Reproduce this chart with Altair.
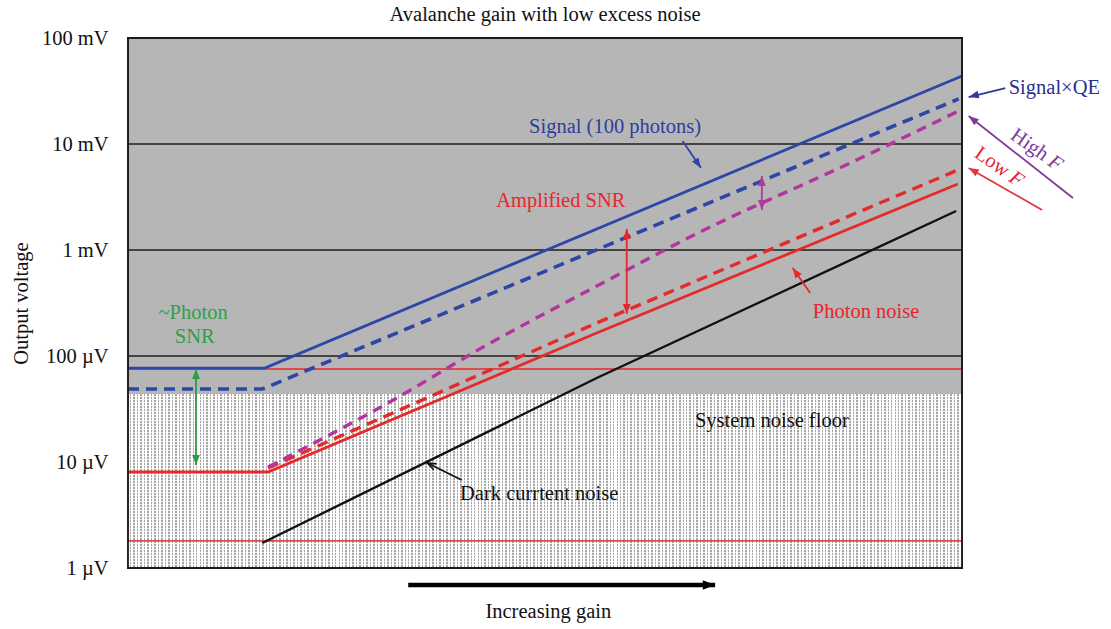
import math
import altair as alt
import pandas as pd

# ---------------- data (gain index 0-100, output voltage in µV) ----------------
gain_max = 100
uv_min, uv_max = 1, 100000

signal_gain = [0, 16.4, 100]
signal_uv = [77, 77, 43850]
signal_qe_gain = [0, 16.1, 99.6]
signal_qe_uv = [48.8, 48.8, 26600]
high_f_gain = [16.8, 31.8, 42.6, 56.2, 68.6, 86.6, 99.6]
high_f_uv = [8.97, 38.4, 121.6, 457, 1479, 6620, 20480]
low_f_gain = [16.8, 56.2, 99.5]
low_f_uv = [8.78, 204.8, 5685]
photon_gain = [0, 16.8, 56.2, 99.5]
photon_uv = [8.05, 8.05, 164.8, 4197]
dark_gain = [16.1, 56.2, 99.3]
dark_uv = [1.72, 62, 2333]

noise_floor_top = 43.8
photon_band = [1.80, 75.4]
grid_uv = [100, 1000, 10000]

y_ticks = [1, 10, 100, 1000, 10000, 100000]
y_tick_labels = ["1 µV", "10 µV", "100 µV", "1 mV", "10 mV", "100 mV"]

# annotations
text_labels = ["Signal (100 photons)", "Amplified SNR", "~Photon", "SNR", "Photon noise",
               "System noise floor", "Dark currtent noise", "Increasing gain"]
text_gain = [58.4, 51.9, 7.8, 8.0, 88.5, 77.2, 49.3, 50.4]
text_uv = [14450, 2898, 254.6, 151, 260, 24.4, 4.99, 0.385]
text_colors = ["#2d3e9e", "#e8262d", "#2ea04a", "#2ea04a", "#e8262d", "#111111", "#111111", "#111111"]

qe_label = ["Signal×QE"]
qe_gain = [105.6]
qe_uv = [33750]

rot_labels = ["High", "Low"]
rot_gain = [108.1, 103.6]
rot_uv = [9824, 6763]
rot_colors = ["#7b3c9c", "#e8262d"]
rot_f_gain = [111.2, 106.5]
rot_f_uv = [6607, 4656]

arrow_colors = ["#2f45a5", "#e8262d", "#b0389f", "#2d3a96", "#7b3c9c", "#e0383a", "#2e9b45", "#e8262d", "#111111"]
arrow_tail_gain = [66.5, 59.8, 76.0, 105.2, 113.3, 109.6, 8.15, 81.8, 40.0]
arrow_tail_uv = [10670, 249, 2384, 33750, 3097, 2384, 9.37, 393, 6.76]
arrow_head_gain = [68.7, 59.8, 76.0, 100.8, 100.8, 100.8, 8.15, 79.7, 35.9]
arrow_head_uv = [5940, 1578, 4991, 27750, 18370, 5940, 75.4, 676, 9.79]
arrow_double = [False, True, True, False, False, False, True, False, False]
arrow_open = [False, False, False, False, False, False, False, False, True]

gain_arrow_gain = [33.6, 70.4]
gain_arrow_uv = [0.691, 0.691]

# ---------------- layout ----------------
W, H = 834, 530
FONT = "Liberation Serif"
FS = 20.5


def to_px(g, v):
    return g / gain_max * W, H * (1 - (math.log10(v) - math.log10(uv_min)) / (math.log10(uv_max) - math.log10(uv_min)))


def heading(g0, v0, g1, v1):
    x0, y0 = to_px(g0, v0)
    x1, y1 = to_px(g1, v1)
    return math.degrees(math.atan2(x1 - x0, -(y1 - y0))) % 360


X_SCALE = alt.Scale(domain=[0, gain_max], nice=False, zero=False)
Y_SCALE = alt.Scale(type="log", domain=[uv_min, uv_max], nice=False)
label_expr = " : ".join(f"datum.value == {v} ? '{l}'" for v, l in zip(y_ticks, y_tick_labels)) + " : ''"
Y_AXIS = alt.Axis(values=y_ticks, labelExpr=label_expr, grid=False, ticks=False, tickSize=0, domain=False,
                  labelFont=FONT, labelFontSize=FS, labelColor="#111", labelPadding=20,
                  title="Output voltage", titleFont=FONT, titleFontSize=FS, titleFontWeight="normal",
                  titleColor="#111", titlePadding=10)


def X(f="g"):
    return alt.X(f"{f}:Q", scale=X_SCALE, axis=None)


def Y(f="v"):
    return alt.Y(f"{f}:Q", scale=Y_SCALE, axis=Y_AXIS)


def stripes(n, duty, c_off, c_on):
    stops = []
    for i in range(n):
        a, b, c = i / n, (i + duty) / n, (i + 1) / n
        stops += [alt.GradientStop(offset=a, color=c_off), alt.GradientStop(offset=b, color=c_off),
                  alt.GradientStop(offset=b, color=c_on), alt.GradientStop(offset=min(c, 1.0), color=c_on)]
    return stops


layers = []

# noise floor dotted area
floor_df = pd.DataFrame({"g": [0], "g2": [gain_max], "v": [uv_min], "v2": [noise_floor_top]})
vert = alt.Gradient(gradient="linear", x1=0, x2=1, y1=0, y2=0,
                    stops=stripes(240, 0.58, "#ffffff", "#a8a8a8"))
horz = alt.Gradient(gradient="linear", x1=0, x2=0, y1=0, y2=1,
                    stops=stripes(58, 0.5, "rgba(255,255,255,0)", "rgba(255,255,255,1)"))
layers.append(alt.Chart(floor_df).mark_rect(fill=vert, strokeWidth=0).encode(
    x=X(), x2="g2:Q", y=Y(), y2="v2:Q"))
layers.append(alt.Chart(floor_df).mark_rect(fill=horz, strokeWidth=0, opacity=0.75).encode(
    x=X(), x2="g2:Q", y=Y(), y2="v2:Q"))

# gridlines
grid_df = pd.DataFrame({"v": grid_uv})
layers.append(alt.Chart(grid_df).mark_rule(color="#1e1e1e", strokeWidth=1.3).encode(y=Y()))

# photon band outline
band_df = pd.DataFrame({"g": [0], "g2": [gain_max], "v": [photon_band[0]], "v2": [photon_band[1]]})
layers.append(alt.Chart(band_df).mark_rect(filled=False, stroke="#dc4a4a", strokeWidth=1.8).encode(
    x=X(), x2="g2:Q", y=Y(), y2="v2:Q"))

# series
series = [
    (dark_gain, dark_uv, "#111111", 2.4, None, "linear"),
    (photon_gain, photon_uv, "#e32b2b", 2.8, None, "linear"),
    (low_f_gain, low_f_uv, "#e32b2b", 3.4, [11, 7], "linear"),
    (high_f_gain, high_f_uv, "#b3349e", 3.4, [10, 7], "monotone"),
    (signal_qe_gain, signal_qe_uv, "#2e46a6", 3.6, [11, 7], "linear"),
    (signal_gain, signal_uv, "#2e46a6", 2.8, None, "linear"),
]
for gs, vs, col, sw, dash, interp in series:
    df = pd.DataFrame({"g": gs, "v": vs})
    kw = dict(color=col, strokeWidth=sw, interpolate=interp)
    if dash:
        kw["strokeDash"] = dash
    layers.append(alt.Chart(df).mark_line(**kw).encode(x=X(), y=Y()))

# arrows
shaft_rows, head_rows, open_rows = [], [], []
for i in range(len(arrow_colors)):
    tg, tv, hg, hv = arrow_tail_gain[i], arrow_tail_uv[i], arrow_head_gain[i], arrow_head_uv[i]
    shaft_rows += [{"id": i, "g": tg, "v": tv, "c": arrow_colors[i]},
                   {"id": i, "g": hg, "v": hv, "c": arrow_colors[i]}]
    target = open_rows if arrow_open[i] else head_rows
    target.append({"g": hg, "v": hv, "a": heading(tg, tv, hg, hv), "c": arrow_colors[i]})
    if arrow_double[i]:
        target.append({"g": tg, "v": tv, "a": heading(hg, hv, tg, tv), "c": arrow_colors[i]})

layers.append(alt.Chart(pd.DataFrame(shaft_rows)).mark_line(strokeWidth=1.8).encode(
    x=X(), y=Y(), detail="id:N", color=alt.Color("c:N", scale=None)))
HEAD = "M0,0L1,2.6L-1,2.6Z"
layers.append(alt.Chart(pd.DataFrame(head_rows)).mark_point(shape=HEAD, filled=True, size=60, strokeWidth=0, opacity=1).encode(
    x=X(), y=Y(), angle=alt.Angle("a:Q", scale=None), color=alt.Color("c:N", scale=None)))
layers.append(alt.Chart(pd.DataFrame(open_rows)).mark_point(shape="M-1,2.6L0,0L1,2.6", filled=False, size=44, strokeWidth=1.6, opacity=1).encode(
    x=X(), y=Y(), angle=alt.Angle("a:Q", scale=None), color=alt.Color("c:N", scale=None)))

# increasing gain arrow
ga_df = pd.DataFrame({"g": gain_arrow_gain, "v": gain_arrow_uv})
layers.append(alt.Chart(ga_df).mark_line(color="#000", strokeWidth=4.5).encode(x=X(), y=Y()))
ga_head = pd.DataFrame({"g": [gain_arrow_gain[1]], "v": [gain_arrow_uv[1]],
                        "a": [heading(gain_arrow_gain[0], gain_arrow_uv[0], gain_arrow_gain[1], gain_arrow_uv[1])]})
layers.append(alt.Chart(ga_head).mark_point(shape=HEAD, filled=True, size=90, strokeWidth=0, color="#000", opacity=1).encode(
    x=X(), y=Y(), angle=alt.Angle("a:Q", scale=None)))

# texts
txt_df = pd.DataFrame({"t": text_labels, "g": text_gain, "v": text_uv, "c": text_colors})
layers.append(alt.Chart(txt_df).mark_text(font=FONT, fontSize=FS, align="center", baseline="middle").encode(
    x=X(), y=Y(), text="t:N", color=alt.Color("c:N", scale=None)))
qe_df = pd.DataFrame({"t": qe_label, "g": qe_gain, "v": qe_uv})
layers.append(alt.Chart(qe_df).mark_text(font=FONT, fontSize=FS, align="left", baseline="middle", color="#2b2f8f").encode(
    x=X(), y=Y(), text="t:N"))
rot_df = pd.DataFrame({"t": rot_labels, "g": rot_gain, "v": rot_uv, "c": rot_colors})
layers.append(alt.Chart(rot_df).mark_text(font=FONT, fontSize=FS, align="center", baseline="middle", angle=35).encode(
    x=X(), y=Y(), text="t:N", color=alt.Color("c:N", scale=None)))
rotf_df = pd.DataFrame({"t": ["F", "F"], "g": rot_f_gain, "v": rot_f_uv, "c": rot_colors})
layers.append(alt.Chart(rotf_df).mark_text(font=FONT, fontSize=FS, fontStyle="italic", align="center", baseline="middle", angle=35).encode(
    x=X(), y=Y(), text="t:N", color=alt.Color("c:N", scale=None)))

# plot border on top
border_df = pd.DataFrame({"g": [0], "g2": [gain_max], "v": [uv_min], "v2": [uv_max]})
layers.append(alt.Chart(border_df).mark_rect(filled=False, stroke="#1a1a1a", strokeWidth=1.8).encode(
    x=X(), x2="g2:Q", y=Y(), y2="v2:Q"))

chart = alt.layer(*layers).properties(
    width=W, height=H,
    title=alt.TitleParams("Avalanche gain with low excess noise", font=FONT, fontSize=FS, fontWeight="normal",
                          color="#111", anchor="middle", frame="group", baseline="top", offset=3),
    padding={"left": 128, "top": 38, "right": 149, "bottom": 61},
    autosize=alt.AutoSizeParams(type="none"),
).configure_view(fill="#b6b6b6", stroke="#1a1a1a", strokeWidth=1.5)

chart.save("out.html", embed_options={"renderer": "svg", "actions": False})
